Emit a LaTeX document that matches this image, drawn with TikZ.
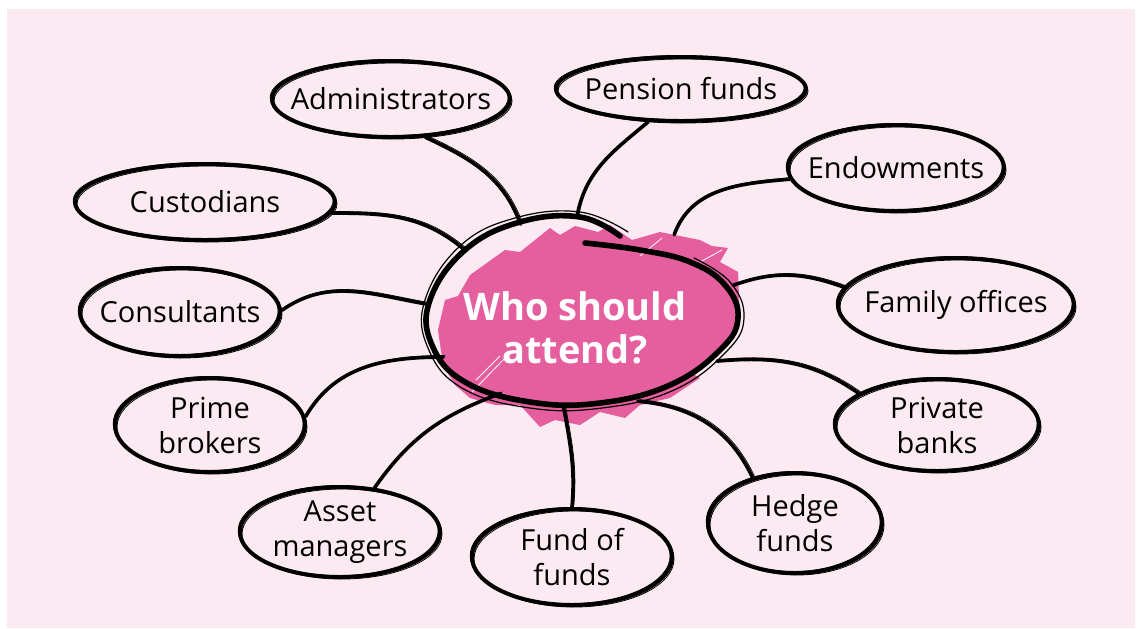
\documentclass[tikz,border=0pt]{standalone}
\usepackage{fontspec}
\setmainfont{Open Sans}
\usetikzlibrary{shapes.geometric}
\definecolor{paperclr}{RGB}{251,234,242}
\definecolor{blotclr}{RGB}{229,95,159}
\tikzset{
  bubble/.style 2 args={ellipse,draw=black,line width=2pt,
              minimum width=#1pt,minimum height=#2pt,inner sep=0pt,
              postaction={draw,line width=0.4pt,transform canvas={shift={(1pt,-1pt)}}},
              postaction={draw,line width=0.4pt,transform canvas={shift={(-0.9pt,0.7pt)}}}},
  btext/.style={font=\fontsize{14.5}{17.5}\selectfont,align=center,inner sep=0pt},
  stroke/.style={line width=1.8pt,line cap=round,
              postaction={draw,line width=0.35pt,transform canvas={shift={(0.9pt,0.8pt)}}}},
}

\begin{document}
\begin{tikzpicture}[x=0.5pt,y=0.5pt]
\useasboundingbox (0,0) rectangle (1138,-628);
\fill[paperclr] (7,-9) rectangle (1135,-628);

% pink scribble behind the question
\fill[blotclr] (438,-330) -- (445,-300) -- (458,-296) -- (470,-275) -- (505,-250)
  -- (520,-252) -- (550,-228) -- (560,-235) -- (575,-226) -- (598,-232) -- (610,-225)
  -- (632,-240) -- (660,-232) -- (700,-240) -- (712,-246) -- (728,-248) -- (720,-262)
  -- (738,-272) -- (740,-320) -- (722,-345) -- (705,-360) -- (690,-372) -- (700,-378)
  -- (670,-398) -- (640,-405) -- (625,-418) -- (600,-412) -- (580,-425) -- (555,-420)
  -- (540,-427) -- (520,-405) -- (495,-405) -- (470,-398) -- (455,-385) -- (443,-365) -- cycle;
\draw[white,line width=0.4pt] (472,-392) -- (505,-358) (476,-380) -- (500,-356)
  (640,-256) -- (662,-238) (700,-262) -- (722,-250);

% audience bubbles
\node[bubble={119}{38},label={[btext]center:Administrators}] (adm) at (391,-99) {};
\node[bubble={125}{32},label={[btext]center:Pension funds}] (pen) at (681,-89) {};
\node[bubble={108}{43},label={[btext]center:Endowments}] (endw) at (896,-168) {};
\node[bubble={130}{38},label={[btext]center:Custodians}] (cus) at (205,-202) {};
\node[bubble={118}{47},label={[btext]center:Family offices}] (fam) at (956,-305) {};
\node[bubble={100}{44},label={[btext]center:Consultants}] (con) at (180,-312) {};
\node[bubble={95}{47},label={[btext]center:{Prime\\brokers}}] (pri) at (210,-425) {};
\node[bubble={102}{46},label={[btext]center:{Private\\banks}}] (pvb) at (937,-425) {};
\node[bubble={100}{45},label={[btext]center:{Asset\\managers}}] (ast) at (340,-532) {};
\node[bubble={100}{48},label={[btext]center:{Fund of\\funds}}] (fof) at (572,-557) {};
\node[bubble={87}{50},label={[btext]center:{Hedge\\funds}}] (hdg) at (795,-523) {};

% centre
\node[ellipse,minimum width=157pt,minimum height=95pt,inner sep=0pt] (cen) at (582,-312) {};
\node[font=\fontsize{19}{21.5}\selectfont\bfseries,text=white,align=center,inner sep=0pt]
  (ask) at (575,-328) {Who should\\attend?};

% connectors
\draw[stroke] (adm.312) to[out=-25,in=110] (cen.125);
\draw[stroke] (pen.225) to[out=-140,in=80] (cen.93);
\draw[stroke] (endw.186) to[out=185,in=70] (cen.40);
\draw[stroke] (cus.355) to[out=0,in=140] (cen.152);
\draw[stroke] (fam.171) to[out=160,in=20] (cen.10);
\draw[stroke] (con.1) to[out=35,in=170] (cen.177);
\draw[stroke] (pri.5) to[out=60,in=180] (cen.198);
\draw[stroke] (pvb.158) to[out=145,in=5] (cen.340);
\draw[stroke] (ast.52) to[out=55,in=200] (cen.225);
\draw[stroke] (fof.90) to[out=85,in=-80] (cen.259);
\draw[stroke] (hdg.133) to[out=115,in=-5] (cen.302);

% hand drawn loop round the question
\draw[line width=2.8pt,line cap=round] plot[smooth,tension=0.7] coordinates {
  (620,-236) (580,-217) (520,-222) (465,-250) (430,-300) (432,-345) (465,-382)
  (530,-402) (600,-403) (670,-385) (720,-350) (738,-318) (725,-285) (690,-262)
  (640,-250) (585,-243)};
\draw[line width=0.6pt,line cap=round] plot[smooth,tension=0.7] coordinates {
  (628,-232) (580,-212) (515,-218) (460,-246) (425,-300) (428,-348) (462,-388)
  (530,-408) (602,-408) (674,-390) (726,-352) (744,-318) (730,-282) (694,-258)};
\end{tikzpicture}
\end{document}
